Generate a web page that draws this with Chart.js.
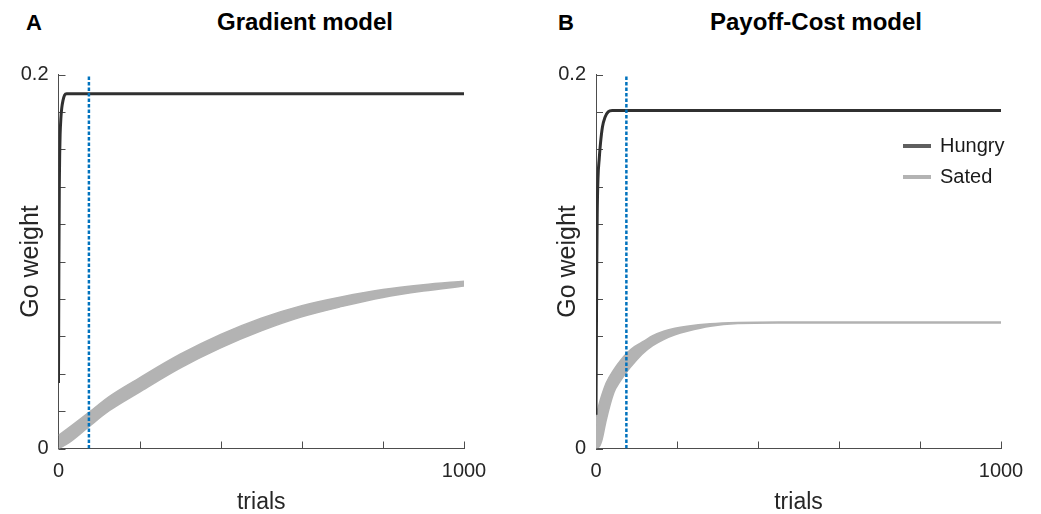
<!DOCTYPE html>
<html><head><meta charset="utf-8">
<script src="https://cdn.jsdelivr.net/npm/chart.js@4.4.1/dist/chart.umd.min.js"></script>
<style>
html,body{margin:0;padding:0;background:#fff;}
body{width:1041px;height:514px;position:relative;overflow:hidden;font-family:"Liberation Sans",Arial,Helvetica,sans-serif;}
canvas{position:absolute;top:0;}
.lbl{position:absolute;font-weight:bold;color:#000;font-size:24px;line-height:24px;white-space:nowrap;}
.legend{position:absolute;left:903px;top:130px;font-size:20px;color:#1a1a1a;}
.legend .row{height:31px;display:flex;align-items:center;}
.legend .sw{width:28px;height:4px;margin-right:9px;}
</style></head>
<body>
<div class="lbl" style="left:26px;top:11px;font-size:22px">A</div>
<div class="lbl" style="left:217px;top:10px">Gradient model</div>
<div class="lbl" style="left:558px;top:11px;font-size:22px">B</div>
<div class="lbl" style="left:710px;top:10px">Payoff-Cost model</div>
<canvas id="cA" width="520" height="514" style="left:0px"></canvas>
<canvas id="cB" width="521" height="514" style="left:520px"></canvas>
<div class="legend">
  <div class="row"><span class="sw" style="background:#5f5f5f"></span>Hungry</div>
  <div class="row"><span class="sw" style="background:#b3b3b3"></span>Sated</div>
</div>
<script>
// ---------- data ----------
const seriesNames = ["Hungry", "Sated"];
const xTickLabels = [0, 1000];
const yTickLabels = [0, 0.2];
const criterionTrial = 75;

// Panel A : Gradient model
const A_hungryTrials = [0, 1, 2, 3, 4, 6, 8, 11, 15, 20, 1000];
const A_hungryValues = [0.035, 0.10, 0.14, 0.158, 0.168, 0.177, 0.182, 0.186, 0.189, 0.1897, 0.1897];
const A_satedTrials = [0, 25, 75, 125, 200, 300, 400, 500, 600, 700, 800, 900, 1000];
const A_satedUpper  = [0.007, 0.011, 0.0193, 0.0278, 0.0378, 0.0504, 0.0610, 0.0697, 0.0764, 0.0812, 0.0850, 0.0876, 0.0895];
const A_satedLower  = [0.000, 0.003, 0.0117, 0.0202, 0.0302, 0.0430, 0.0538, 0.0629, 0.0704, 0.0760, 0.0808, 0.0842, 0.0869];

// Panel B : Payoff-Cost model
const B_hungryTrials = [0, 1, 2, 3, 5, 8, 11, 16, 22, 30, 40, 1000];
const B_hungryValues = [0.018, 0.06, 0.10, 0.125, 0.145, 0.155, 0.163, 0.172, 0.177, 0.180, 0.1807, 0.1807];
const B_satedTrials = [0, 3, 8, 15, 25, 44, 60, 77, 95, 118, 140, 167, 195, 225, 282, 350, 450, 1000];
const B_satedUpper  = [0.012, 0.019, 0.024, 0.029, 0.035, 0.0422, 0.047, 0.0512, 0.0545, 0.0574, 0.0603, 0.0627, 0.0643, 0.0654, 0.0667, 0.0674, 0.0677, 0.0677];
const B_satedLower  = [0.000, 0.0005, 0.001, 0.0048, 0.015, 0.0298, 0.036, 0.0413, 0.046, 0.0512, 0.055, 0.0583, 0.0608, 0.0627, 0.0654, 0.0668, 0.0671, 0.0671];

// ---------- helpers ----------
const pts = (xs, ys) => xs.map((x, i) => ({x: x, y: ys[i]}));
const FONT = '"Liberation Sans", Arial, Helvetica, sans-serif';
const AXIS = '#4d4d4d';

const inwardTicks = {
  id: 'inwardTicks',
  beforeDatasetsDraw(chart) {
    const {ctx, chartArea, scales} = chart;
    ctx.save();
    ctx.strokeStyle = AXIS;
    ctx.lineWidth = 1;
    ctx.beginPath();
    scales.x.ticks.forEach(t => {
      const px = Math.round(scales.x.getPixelForValue(t.value)) + 0.5;
      ctx.moveTo(px, chartArea.bottom);
      ctx.lineTo(px, chartArea.bottom - 7);
    });
    scales.y.ticks.forEach(t => {
      const py = Math.round(scales.y.getPixelForValue(t.value)) + 0.5;
      ctx.moveTo(chartArea.left, py);
      ctx.lineTo(chartArea.left + 7, py);
    });
    ctx.stroke();
    ctx.restore();
  }
};

function makeChart(id, d, pad, yW) {
  const datasets = [
    {label: 'criterion', data: [{x: criterionTrial, y: 0}, {x: criterionTrial, y: 0.2}],
     borderColor: '#0072BD', borderWidth: 2.5, borderDash: [3.5, 2], pointRadius: 0, fill: false},
    {label: seriesNames[0], data: pts(d.hT, d.hV), borderColor: '#303030', borderWidth: 3,
     pointRadius: 0, cubicInterpolationMode: 'monotone', fill: false},
    {label: seriesNames[1] + ' upper', data: pts(d.sT, d.sU), borderColor: '#b3b3b3', backgroundColor: '#b3b3b3',
     borderWidth: 1.5, pointRadius: 0, cubicInterpolationMode: 'monotone', fill: '+1'},
    {label: seriesNames[1], data: pts(d.sT, d.sL), borderColor: '#b3b3b3', borderWidth: 1.5,
     pointRadius: 0, cubicInterpolationMode: 'monotone', fill: false}
  ];
  return new Chart(document.getElementById(id), {
    type: 'line',
    data: {datasets},
    plugins: [inwardTicks],
    options: {
      responsive: false, animation: false, devicePixelRatio: 1,
      layout: {padding: pad},
      plugins: {legend: {display: false}, tooltip: {enabled: false}},
      scales: {
        x: {
          type: 'linear', min: 0, max: 1000,
          afterFit: s => { s.height = 65.5; },
          grid: {display: false, drawTicks: false},
          border: {display: true, color: AXIS, width: 1},
          ticks: {stepSize: 200, autoSkip: false, maxRotation: 0, padding: 11,
                  color: '#262626', font: {family: FONT, size: 20},
                  callback: v => xTickLabels.includes(v) ? String(v) : ''},
          title: {display: true, text: 'trials', color: '#262626', padding: {top: 0, bottom: -2},
                  font: {family: FONT, size: 23}}
        },
        y: {
          type: 'linear', min: 0, max: 0.2,
          afterFit: s => { s.width = yW; },
          grid: {display: false, drawTicks: false},
          border: {display: true, color: AXIS, width: 1},
          ticks: {stepSize: 0.02, autoSkip: false, padding: 10,
                  color: '#262626', font: {family: FONT, size: 20},
                  callback: v => yTickLabels.some(t => Math.abs(t - v) < 1e-9) ? String(Math.round(v * 10) / 10) : ''},
          title: {display: true, text: 'Go weight', color: '#262626', padding: {top: 0, bottom: 0},
                  font: {family: FONT, size: 25}}
        }
      }
    }
  });
}

makeChart('cA', {hT: A_hungryTrials, hV: A_hungryValues, sT: A_satedTrials, sU: A_satedUpper, sL: A_satedLower},
          {left: 16, right: 56, top: 74.5, bottom: 0}, 42.5);
makeChart('cB', {hT: B_hungryTrials, hV: B_hungryValues, sT: B_satedTrials, sU: B_satedUpper, sL: B_satedLower},
          {left: 33, right: 40, top: 74.5, bottom: 0}, 43);
</script>
</body></html>
